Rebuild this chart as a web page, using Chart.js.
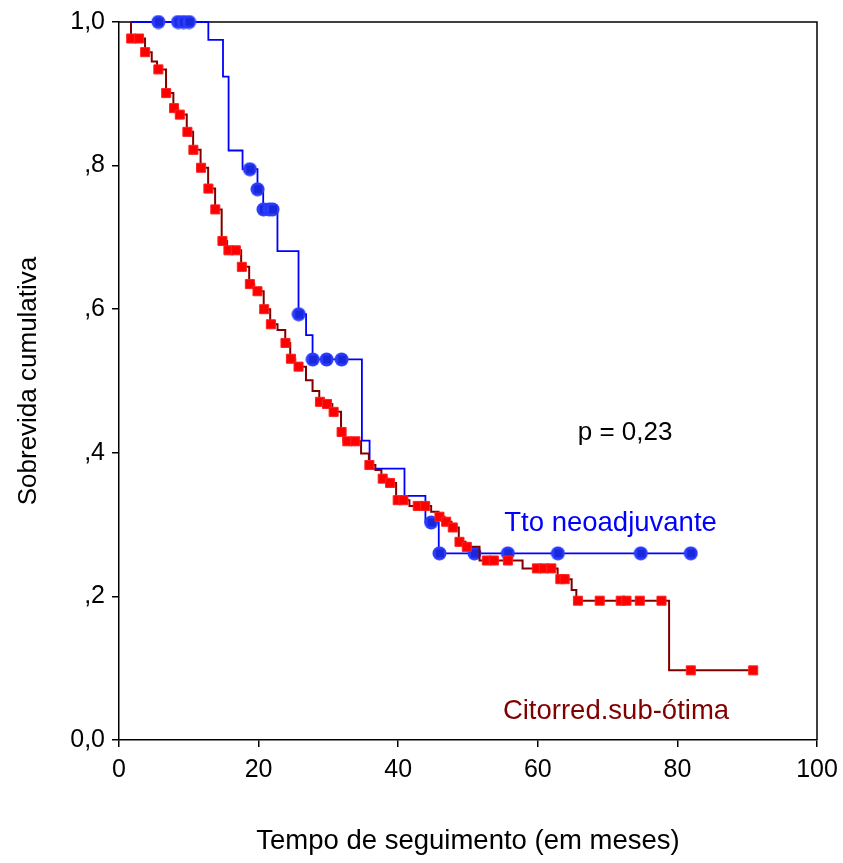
<!DOCTYPE html>
<html>
<head>
<meta charset="utf-8">
<script src="https://cdn.jsdelivr.net/npm/chart.js@4.4.0/dist/chart.umd.min.js"></script>
<style>
  html, body { margin: 0; padding: 0; background: #ffffff; }
</style>
</head>
<body>
<canvas id="kmChart" width="843" height="863"></canvas>
<script>
// ---- data (time in months, cumulative survival) ----
const blueStart = 1.7;
const blueEventTimes = [12.8, 14.9, 15.7, 17.7, 19.84, 20.66, 22.7, 25.72, 26.8, 27.73, 34.8, 35.9, 40.9, 43.9, 45.81];
const blueSurvival   = [0.975, 0.924, 0.821, 0.795, 0.767, 0.739, 0.681, 0.593, 0.564, 0.530, 0.417, 0.378, 0.340, 0.303, 0.260];
const blueCensorTimes = [5.64, 8.46, 9.25, 10.04, 18.75, 19.85, 20.7, 21.52, 22.0, 25.75, 27.75, 29.74, 31.89,
                         44.72, 45.91, 50.93, 55.71, 62.88, 74.75, 81.92];

const redStart = 1.72;
const redEventTimes = [1.72, 3.73, 4.69, 5.45, 6.74, 7.79, 8.46, 9.71, 10.62, 11.69, 12.77, 13.77, 14.71, 15.49,
                       17.5, 18.65, 19.37, 20.73, 21.66, 22.71, 23.82, 24.53, 25.25, 26.79, 27.73, 28.69, 29.7,
                       30.56, 31.81, 32.14, 34.68, 35.8, 36.73, 37.59, 38.59, 39.7, 41.61, 44.72, 45.77, 46.63,
                       47.63, 48.68, 49.64, 51.65, 57.82, 62.84, 64.85, 65.52, 78.81];
const redSurvival   = [0.977, 0.958, 0.945, 0.934, 0.901, 0.880, 0.871, 0.847, 0.822, 0.797, 0.768, 0.739, 0.695, 0.682,
                       0.659, 0.635, 0.625, 0.600, 0.579, 0.571, 0.553, 0.531, 0.520, 0.501, 0.486, 0.471, 0.468,
                       0.457, 0.429, 0.416, 0.399, 0.383, 0.376, 0.364, 0.358, 0.334, 0.326, 0.318, 0.311, 0.304,
                       0.296, 0.276, 0.269, 0.250, 0.239, 0.224, 0.209, 0.194, 0.097];
const redCensorTimes = [1.75, 2.87, 3.75, 5.64, 6.76, 7.89, 8.71, 9.8, 10.66, 11.76, 12.81, 13.8, 14.82, 15.68, 16.74,
                        17.6, 18.75, 19.84, 20.8, 21.76, 23.85, 24.63, 25.72, 28.79, 29.8, 30.75, 31.89, 32.71, 33.86,
                        35.87, 37.78, 38.84, 39.93, 40.75, 42.8, 43.86, 45.91, 46.87, 47.82, 48.78, 49.83, 52.7,
                        53.7, 55.71, 59.87, 60.88, 61.94, 63.23, 63.85, 65.75, 68.87, 71.88, 72.7, 74.61, 77.72,
                        81.92, 90.86];

const groupNames = ["Tto neoadjuvante", "Citorred.sub-ótima"];
const pValueText = "p = 0,23";

// ------------------- Helper Functions -------------------

// value of the step curve at time t
function survivalAt(times, surv, t) {
  let s = 1;
  for (let i = 0; i < times.length; i++) {
    if (times[i] <= t) s = surv[i];
  }
  return s;
}

function stepPoints(start, times, surv, censors) {
  const pts = [{ x: start, y: 1 }];
  times.forEach((t, i) => pts.push({ x: t, y: surv[i] }));
  const end = Math.max(...censors);
  pts.push({ x: end, y: survivalAt(times, surv, end) });
  return pts;
}

function censorPoints(times, surv, censors) {
  return censors.map((t) => ({ x: t, y: survivalAt(times, surv, t) }));
}

// blue hatched dot used by SPSS for censored cases
function makeBlueDot() {
  const c = document.createElement("canvas");
  c.width = 15; c.height = 15;
  const g = c.getContext("2d");
  g.beginPath();
  g.arc(7.5, 7.5, 7, 0, Math.PI * 2);
  g.fillStyle = "#2a3cff";
  g.fill();
  g.save();
  g.clip();
  g.strokeStyle = "#0a14b8";
  g.lineWidth = 1;
  [5, 7, 9, 11].forEach((x) => {
    g.beginPath(); g.moveTo(x, 3.5); g.lineTo(x, 11.5); g.stroke();
  });
  g.restore();
  return c;
}

const FONT = "'Liberation Sans', Arial, sans-serif";

// frame round the plot + text notes
const framePlugin = {
  id: "frame",
  beforeDatasetsDraw(chart) {
    const { ctx, chartArea: a } = chart;
    ctx.save();
    ctx.strokeStyle = "#000";
    ctx.lineWidth = 1.5;
    ctx.beginPath();
    ctx.moveTo(a.left, a.top);
    ctx.lineTo(a.right, a.top);
    ctx.lineTo(a.right, a.bottom);
    ctx.stroke();
    ctx.restore();
  },
  afterDraw(chart) {
    const { ctx, scales } = chart;
    const notes = [
      { text: pValueText, t: 72.5, s: 0.4276, color: "#000000", align: "center", size: 26 },
      { text: groupNames[0], t: 55.2, s: 0.302, color: "#0000ff", align: "left", size: 27.5 },
      { text: groupNames[1], t: 55.0, s: 0.040, color: "#800000", align: "left", size: 27.5 },
    ];
    ctx.save();
    ctx.textBaseline = "middle";
    notes.forEach((n) => {
      ctx.font = n.size + "px " + FONT;
      ctx.fillStyle = n.color;
      ctx.textAlign = n.align;
      ctx.fillText(n.text, scales.x.getPixelForValue(n.t), scales.y.getPixelForValue(n.s));
    });
    ctx.restore();
  },
};

new Chart(document.getElementById("kmChart"), {
  type: "scatter",
  data: {
    datasets: [
      {
        label: groupNames[1] + " censored",
        data: censorPoints(redEventTimes, redSurvival, redCensorTimes),
        pointStyle: "rect",
        pointRadius: 6.4,
        backgroundColor: "#ff0000",
        borderColor: "#ff2020",
        borderWidth: 1,
        showLine: false,
        clip: 10,
        order: 0,
      },
      {
        label: groupNames[1],
        data: stepPoints(redStart, redEventTimes, redSurvival, redCensorTimes),
        showLine: true,
        stepped: "before",
        borderColor: "#800000",
        borderWidth: 2,
        pointRadius: 0,
        order: 1,
      },
      {
        label: groupNames[0] + " censored",
        data: censorPoints(blueEventTimes, blueSurvival, blueCensorTimes),
        pointStyle: makeBlueDot(),
        showLine: false,
        clip: 10,
        order: 2,
      },
      {
        label: groupNames[0],
        data: stepPoints(blueStart, blueEventTimes, blueSurvival, blueCensorTimes),
        showLine: true,
        stepped: "before",
        borderColor: "#0000ff",
        borderWidth: 1.8,
        pointRadius: 0,
        clip: 2,
        order: 3,
      },
    ],
  },
  options: {
    responsive: false,
    devicePixelRatio: 1,
    animation: false,
    layout: { padding: { top: 22, right: 26, left: 0, bottom: 0 } },
    plugins: {
      legend: { display: false },
      tooltip: { enabled: false },
    },
    scales: {
      x: {
        type: "linear",
        min: 0,
        max: 100,
        afterFit: (scale) => {
          scale.height = 123;
          scale.paddingLeft = 0;
          scale.paddingRight = 0;
        },
        ticks: { stepSize: 20, color: "#000", padding: 8, font: { family: FONT, size: 25 } },
        grid: { drawOnChartArea: false, drawTicks: true, tickLength: 7, color: "#000", lineWidth: 1.5 },
        border: { display: true, color: "#000", width: 1.5 },
        title: {
          display: true,
          text: "Tempo de seguimento (em meses)",
          color: "#000",
          font: { family: FONT, size: 27.5 },
          padding: { top: 0, bottom: 5 },
        },
      },
      y: {
        type: "linear",
        min: 0,
        max: 1,
        afterFit: (scale) => { scale.width = 119; },
        ticks: {
          stepSize: 0.2,
          color: "#000",
          padding: 7,
          font: { family: FONT, size: 25 },
          callback: (v) => {
            if (v === 0) return "0,0";
            if (v === 1) return "1,0";
            return "," + Math.round(v * 10);
          },
        },
        grid: { drawOnChartArea: false, drawTicks: true, tickLength: 7, color: "#000", lineWidth: 1.5 },
        border: { display: true, color: "#000", width: 1.5 },
        title: {
          display: true,
          text: "Sobrevida cumulativa",
          color: "#000",
          font: { family: FONT, size: 26 },
          padding: { top: 13, bottom: 0 },
        },
      },
    },
  },
  plugins: [framePlugin],
});
</script>
</body>
</html>
